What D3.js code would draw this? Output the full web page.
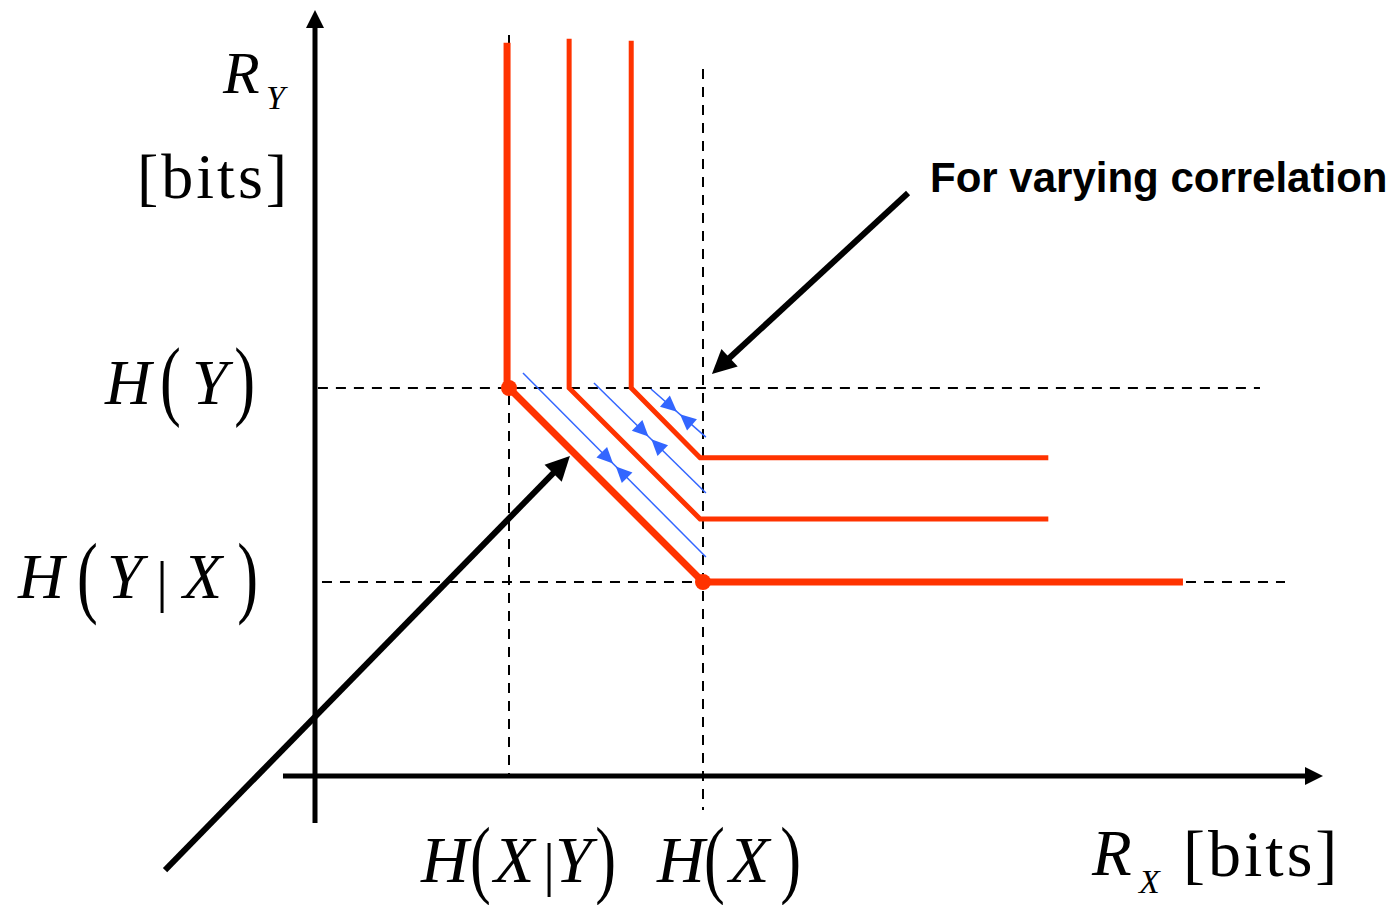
<!DOCTYPE html>
<html><head><meta charset="utf-8">
<script src="https://cdn.jsdelivr.net/npm/d3@7"></script>
<style>html,body{margin:0;padding:0;background:#fff;} svg{display:block;}</style>
</head><body>
<svg id="c" width="1396" height="905"></svg>
<script>
// ---- Data (units: bits; H(X|Y)=1, H(X)=2, H(Y|X)=1, H(Y)=2) ----
const xTicks = [1, 2];
const xTickNames = ["H(X|Y)", "H(X)"];
const yTicks = [2, 1];
const yTickNames = ["H(Y)", "H(Y|X)"];
const xAxisExtent = [-0.165, 5.196];
const yAxisExtent = [-0.242, 3.948];
const guideV = [[1, 0, 3.82], [2, -0.175, 3.644]];        // x, y0, y1
const guideH = [[2, 0.015, 4.871], [1, 0.036, 5.0]];      // y, x0, x1
const boundaryOuter = [[0.99, 3.78], [0.99, 2], [1, 2], [2, 1], [4.474, 1]];
const boundaryMid   = [[1.31, 3.80], [1.31, 2], [1.985, 1.325], [3.78, 1.325]];
const boundaryInner = [[1.63, 3.79], [1.63, 2], [1.985, 1.64], [3.78, 1.64]];
const cornerPoints = [[1, 2], [2, 1]];
const blueArrows = [
  [[1.072, 2.077], [2.015, 1.129]],
  [[1.438, 2.026], [2.015, 1.459]],
  [[1.732, 1.995], [2.015, 1.747]]
];
const blackArrows = [
  [[-0.773, -0.485], [1.314, 1.649]],
  [[3.057, 3.005], [2.046, 2.072]]
];
const annotation = "For varying correlation";

// ---- Scales ----
const x = d3.scaleLinear().domain([0, 5]).range([315, 1285]);
const y = d3.scaleLinear().domain([0, 4]).range([776, 0]);
const svg = d3.select("#c");
const RED = "#ff3300", BLUE = "#3366ff";
const SERIF = "'Liberation Serif','Times New Roman',serif";

function head(g, tip, u, L, W, color) {
  const n = [-u[1], u[0]];
  const b = [tip[0] - L * u[0], tip[1] - L * u[1]];
  g.append("path")
    .attr("d", `M${tip[0]},${tip[1]}L${b[0] + W * n[0]},${b[1] + W * n[1]}L${b[0] - W * n[0]},${b[1] - W * n[1]}Z`)
    .attr("fill", color);
}
function unit(p, q) { const dx = q[0] - p[0], dy = q[1] - p[1], l = Math.hypot(dx, dy); return [dx / l, dy / l]; }

// ---- Dashed guides ----
const gGuide = svg.append("g").attr("stroke", "#000").attr("stroke-width", 2).attr("stroke-dasharray", "10,8");
guideV.forEach(d => gGuide.append("line").attr("x1", x(d[0])).attr("x2", x(d[0])).attr("y1", y(d[2])).attr("y2", y(d[1])));
guideH.forEach(d => gGuide.append("line").attr("y1", y(d[0])).attr("y2", y(d[0])).attr("x1", x(d[1])).attr("x2", x(d[2])));

// ---- Axes ----
const gAx = svg.append("g");
{
  const t = [x(xAxisExtent[1]), y(0)], s = [x(xAxisExtent[0]), y(0)];
  gAx.append("line").attr("x1", s[0]).attr("y1", s[1]).attr("x2", t[0] - 17).attr("y2", t[1]).attr("stroke", "#000").attr("stroke-width", 5);
  head(gAx, t, [1, 0], 18, 9, "#000");
  const t2 = [x(0), y(yAxisExtent[1])], s2 = [x(0), y(yAxisExtent[0])];
  gAx.append("line").attr("x1", s2[0]).attr("y1", s2[1]).attr("x2", t2[0]).attr("y2", t2[1] + 17).attr("stroke", "#000").attr("stroke-width", 5);
  head(gAx, t2, [0, -1], 18, 9, "#000");
}

// ---- Red rate-region boundaries ----
const line = d3.line().x(d => x(d[0])).y(d => y(d[1]));
svg.append("path").attr("d", line(boundaryInner)).attr("fill", "none").attr("stroke", RED).attr("stroke-width", 5).attr("stroke-linejoin", "miter");
svg.append("path").attr("d", line(boundaryMid)).attr("fill", "none").attr("stroke", RED).attr("stroke-width", 5).attr("stroke-linejoin", "miter");
svg.append("path").attr("d", line(boundaryOuter)).attr("fill", "none").attr("stroke", RED).attr("stroke-width", 7).attr("stroke-linejoin", "miter");
svg.selectAll("circle.corner").data(cornerPoints).enter().append("circle")
  .attr("cx", d => x(d[0])).attr("cy", d => y(d[1])).attr("r", 8).attr("fill", RED);

// ---- Blue double arrows ----
const gB = svg.append("g");
blueArrows.forEach(([a, b]) => {
  const p = [x(a[0]), y(a[1])], q = [x(b[0]), y(b[1])];
  gB.append("line").attr("x1", p[0]).attr("y1", p[1]).attr("x2", q[0]).attr("y2", q[1]).attr("stroke", BLUE).attr("stroke-width", 1.5);
  const u = unit(p, q), m = [(p[0] + q[0]) / 2, (p[1] + q[1]) / 2];
  head(gB, [m[0] - 2 * u[0], m[1] - 2 * u[1]], u, 16, 7.5, BLUE);
  head(gB, [m[0] + 2 * u[0], m[1] + 2 * u[1]], [-u[0], -u[1]], 16, 7.5, BLUE);
});

// ---- Black pointer arrows ----
const gK = svg.append("g");
blackArrows.forEach(([a, b]) => {
  const p = [x(a[0]), y(a[1])], q = [x(b[0]), y(b[1])];
  const u = unit(p, q);
  gK.append("line").attr("x1", p[0]).attr("y1", p[1]).attr("x2", q[0] - 20 * u[0]).attr("y2", q[1] - 20 * u[1]).attr("stroke", "#000").attr("stroke-width", 6);
  head(gK, q, u, 24, 12, "#000");
});

// ---- Math text helpers ----
function italic(g, t, px, py, fs) {
  g.append("text").attr("x", px).attr("y", py).text(t)
    .attr("font-family", SERIF).attr("font-style", "italic").attr("font-size", fs).attr("fill", "#000");
}
function upright(g, t, px, py, fs, ls) {
  g.append("text").attr("x", px).attr("y", py).text(t)
    .attr("font-family", SERIF).attr("font-size", fs).attr("letter-spacing", ls || 0).attr("fill", "#000");
}
// stretched glyph: ink box (left, top, bottom, width)
function stretched(g, t, left, top, bottom, width, m) {
  const fs = 64;
  const sy = (bottom - top) / ((m.yMax - m.yMin) * fs);
  const sx = width / ((m.xMax - m.xMin) * fs);
  const tx = left - sx * m.xMin * fs;
  const ty = top + sy * m.yMax * fs;
  g.append("text").attr("transform", `translate(${tx},${ty}) scale(${sx},${sy})`).text(t)
    .attr("font-family", SERIF).attr("font-size", fs).attr("fill", "#000");
}
const PL = {xMin: 0.048, xMax: 0.304, yMin: -0.177, yMax: 0.676};
const PR = {xMin: 0.029, xMax: 0.285, yMin: -0.177, yMax: 0.676};
const BAR = {xMin: 0.067, xMax: 0.133, yMin: -0.218, yMax: 0.782};

function renderLabel(g, ax, ay, spec) {
  spec.forEach(s => {
    if (s.k === "it") italic(g, s.t, ax + s.dx, ay + s.base, s.fs);
    else if (s.k === "(") stretched(g, "(", ax + s.dx, ay + s.top, ay + s.bot, s.w, PL);
    else if (s.k === ")") stretched(g, ")", ax + s.dx, ay + s.top, ay + s.bot, s.w, PR);
    else if (s.k === "|") stretched(g, "|", ax + s.dx, ay + s.top, ay + s.bot, s.w, BAR);
  });
}
function specFor(name) {
  const chars = name.split("");
  const lay = {
    "H(Y)":   {side: "left", pos: [-150, -92, -63, -19], top: -38, bot: 37, bar: null, fs: 64},
    "H(Y|X)": {side: "left", pos: [-237, -175, -148, -95, -72, -16], top: -37, bot: 40, bar: [-25, 31], fs: 64},
    "H(X|Y)": {side: "bottom", pos: [-88, -36, -15, 38, 46, 88], top: -54, bot: 20, bar: [-44, 15], fs: 66},
    "H(X)":   {side: "bottom", pos: [-46, 4, 26, 79], top: -54, bot: 20, bar: null, fs: 66}
  }[name];
  const base = lay.side === "left" ? 16 : 0;
  return chars.map((c, i) => {
    const dx = lay.pos[i];
    if (c === "(" || c === ")") return {k: c, dx, top: lay.top, bot: lay.bot, w: 16};
    if (c === "|") return {k: "|", dx, top: lay.bar[0], bot: lay.bar[1], w: 4};
    return {k: "it", t: c, dx, base, fs: lay.fs};
  });
}

const gT = svg.append("g");
yTicks.forEach((v, i) => renderLabel(gT, x(0) - 60, y(v), specFor(yTickNames[i])));
xTicks.forEach((v, i) => renderLabel(gT, x(v), 882, specFor(xTickNames[i])));

// Axis titles
italic(gT, "R", x(0) - 92, 93, 60);
italic(gT, "Y", x(0) - 49, 109, 34);
upright(gT, "[bits]", x(0) - 178, 198, 64, 3);
italic(gT, "R", 1092, 875, 65);
italic(gT, "X", 1139, 893, 34);
upright(gT, "[bits]", 1183, 876, 66, 3);

// Annotation
gT.append("text").attr("x", 930).attr("y", 192).text(annotation)
  .attr("font-family", "'Liberation Sans',Arial,sans-serif").attr("font-weight", "bold").attr("font-size", 42).attr("fill", "#000");
</script>
</body></html>
